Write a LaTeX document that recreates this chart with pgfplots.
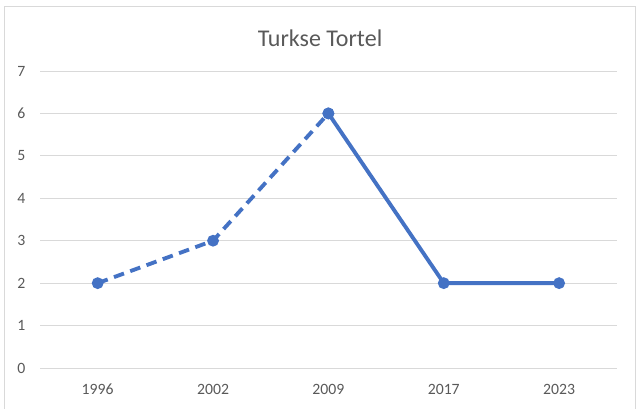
\documentclass[border=0pt]{standalone}
\usepackage{pgfplots}
\pgfplotsset{compat=1.18}
\usepackage{fontspec}
\setmainfont{Carlito}
\definecolor{lineblue}{HTML}{4472C4}
\definecolor{gridgray}{HTML}{D9D9D9}
\definecolor{textgray}{HTML}{595959}
\begin{document}
\begin{tikzpicture}
\useasboundingbox (0,0) rectangle (479.25pt,306pt);
\draw[gridgray, line width=0.75pt] (3pt,-5pt) rectangle (476.25pt,300.75pt);
\node[text=textgray, font=\fontsize{18}{20}\selectfont] at (240pt,277.5pt) {Turkse Tortel};
\begin{axis}[
  at={(30pt,30pt)}, anchor=south west,
  scale only axis, width=432.6pt, height=222.75pt,
  xmin=-0.5, xmax=4.5, ymin=0, ymax=7,
  xtick={0,1,2,3,4},
  xticklabels={1996,2002,2009,2017,2023},
  ytick={0,1,2,3,4,5,6,7},
  axis line style={draw=none},
  axis x line*=bottom,
  major tick length=0pt,
  ymajorgrids, grid style={gridgray, line width=0.75pt},
  ticklabel style={text=textgray, font=\fontsize{11.8}{13}\selectfont},
  /pgf/number format/assume math mode=true,
  xticklabel style={anchor=center, yshift=-15.75pt},
  yticklabel style={anchor=center, xshift=-14pt},
  clip=false,
]
\addplot[lineblue, line width=2.9pt, dash pattern=on 8pt off 5pt,
  mark=*, mark size=2.9pt, mark options={solid, fill=lineblue}]
  coordinates {(0,2) (1,3) (2,6)};
\addplot[lineblue, line width=2.9pt,
  mark=*, mark size=2.9pt, mark options={solid, fill=lineblue}]
  coordinates {(2,6) (3,2) (4,2)};
\end{axis}
\end{tikzpicture}
\end{document}
